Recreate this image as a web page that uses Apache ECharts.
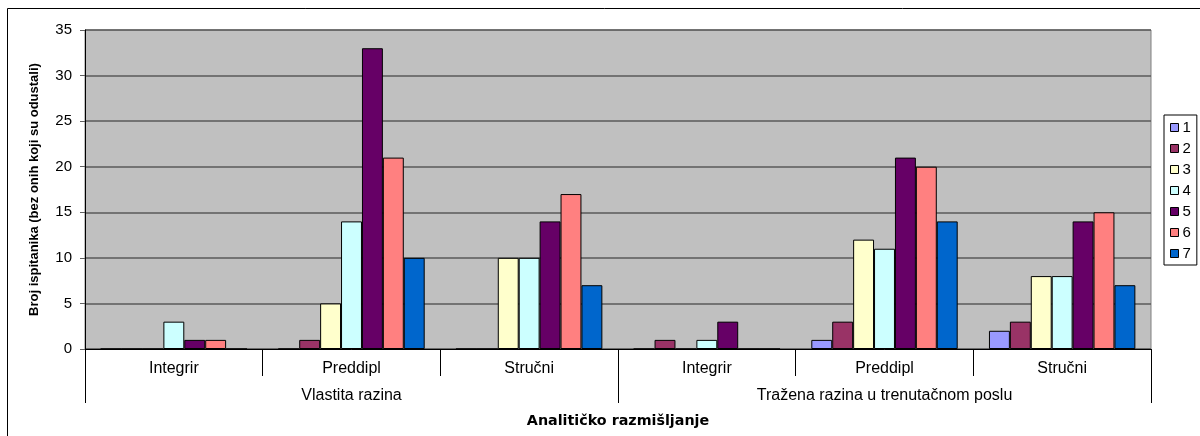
<!DOCTYPE html>
<html>
<head>
<meta charset="utf-8">
<script src="https://cdn.jsdelivr.net/npm/echarts@6/dist/echarts.min.js"></script>
<style>html,body{margin:0;padding:0;background:#fff}#c{width:1200px;height:436px}</style>
</head>
<body>
<div id="c"></div>
<script>
const categories = ['Integrir', 'Preddipl', 'Stručni', 'Integrir', 'Preddipl', 'Stručni'];
const groups = ['Vlastita razina', 'Tražena razina u trenutačnom poslu'];
const seriesNames = ['1', '2', '3', '4', '5', '6', '7'];
const s1 = [0, 0, 0, 0, 1, 2];
const s2 = [0, 1, 0, 1, 3, 3];
const s3 = [0, 5, 10, 0, 12, 8];
const s4 = [3, 14, 10, 1, 11, 8];
const s5 = [1, 33, 14, 3, 21, 14];
const s6 = [1, 21, 17, 0, 20, 15];
const s7 = [0, 10, 7, 0, 14, 7];
const colors = ['#9999FF', '#993366', '#FFFFCC', '#CCFFFF', '#660066', '#FF8080', '#0066CC'];
const values = [s1, s2, s3, s4, s5, s6, s7];

const FONT = 'Liberation Sans, Arial, sans-serif';
const chart = echarts.init(document.getElementById('c'), null, {renderer: 'canvas'});
chart.setOption({
  animation: false,
  backgroundColor: '#fff',
  color: colors,
  graphic: [{
    type: 'rect', shape: {x: 7.5, y: 8.5, width: 1400, height: 600},
    style: {fill: 'none', stroke: '#000', lineWidth: 1}, z: -10, silent: true
  }],
  grid: {
    left: 85, top: 30, right: 49, bottom: 87,
    show: true, backgroundColor: '#C0C0C0', borderColor: '#808080', borderWidth: 1
  },
  legend: {
    orient: 'vertical', left: 1164, top: 115,
    padding: [5, 6, 4, 6], itemGap: 6, itemWidth: 8, itemHeight: 8,
    borderColor: '#000', borderWidth: 1, backgroundColor: '#fff',
    icon: 'rect',
    itemStyle: {borderColor: '#000', borderWidth: 1},
    textStyle: {fontFamily: FONT, fontSize: 15, color: '#000', lineHeight: 13, padding: [0, 0, 0, -1]},
    data: seriesNames
  },
  xAxis: [{
    type: 'category', data: categories, position: 'bottom', gridIndex: 0,
    axisLine: {show: true, lineStyle: {color: '#000', width: 1}},
    axisTick: {show: true, length: 27, interval: 0, lineStyle: {color: '#000'}},
    axisLabel: {fontFamily: FONT, fontSize: 16, color: '#000', margin: 12, interval: 0}
  }, {
    type: 'category', data: groups, position: 'bottom', gridIndex: 0,
    axisLine: {show: false},
    axisTick: {show: true, length: 54, interval: 0, lineStyle: {color: '#000'}},
    axisLabel: {fontFamily: FONT, fontSize: 16, color: '#000', margin: 39, interval: 0},
    name: 'Analitičko razmišljanje', nameLocation: 'middle', nameGap: 65,
    nameTextStyle: {fontFamily: 'DejaVu Sans, sans-serif', fontSize: 14.3, fontWeight: 'bold', color: '#000'}
  }],
  yAxis: {
    type: 'value', min: 0, max: 35, interval: 5,
    axisLine: {show: true, lineStyle: {color: '#000', width: 1}},
    axisTick: {show: true, length: 5, lineStyle: {color: '#606060'}},
    axisLabel: {fontFamily: FONT, fontSize: 15, color: '#000', margin: 13},
    splitLine: {show: true, lineStyle: {color: '#5a5a5a', width: 1.5}},
    name: 'Broj ispitanika (bez onih koji su odustali)', nameLocation: 'middle', nameGap: 44,
    nameRotate: 90,
    nameTextStyle: {fontFamily: FONT, fontSize: 13, fontWeight: 'bold', color: '#000'}
  },
  series: seriesNames.map((n, i) => ({
    name: n, type: 'bar', xAxisIndex: 0, data: values[i],
    barGap: '0%', barCategoryGap: '17.6%',
    itemStyle: {color: colors[i], borderColor: '#000', borderWidth: 1}
  }))
});
</script>
</body>
</html>
